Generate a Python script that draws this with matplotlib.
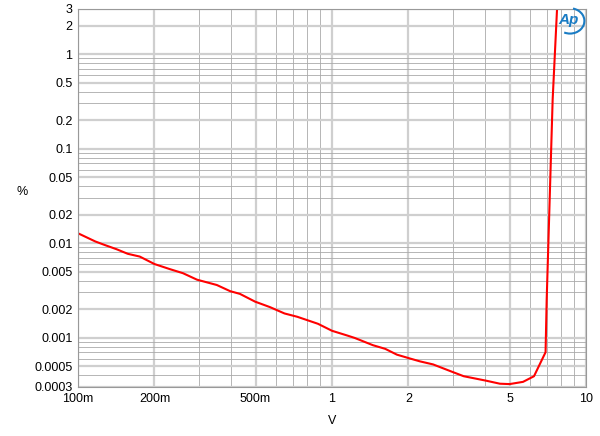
import matplotlib
matplotlib.use("Agg")
import matplotlib.pyplot as plt
from matplotlib.patches import Arc
from matplotlib.ticker import FixedLocator, NullFormatter

plt.rcParams['font.family'] = ['Liberation Sans', 'DejaVu Sans']

# level sweep (V) vs THD+N (%)
volts = [0.1, 0.117, 0.128, 0.142, 0.157, 0.175, 0.2, 0.23, 0.259, 0.294, 0.352,
         0.397, 0.434, 0.498, 0.57, 0.65, 0.73, 0.88, 1.0, 1.15, 1.23, 1.45,
         1.62, 1.8, 2.03, 2.22, 2.5, 3.0, 3.3, 4.04, 4.58, 5.0, 5.65, 6.24,
         6.93, 7.0, 7.39, 7.69, 7.8]
thd = [0.0127, 0.0104, 0.0095, 0.0086, 0.0077, 0.0072, 0.006, 0.0053, 0.0048,
       0.0041, 0.0036, 0.0031, 0.0029, 0.0024, 0.0021, 0.0018, 0.00166, 0.0014,
       0.00118, 0.00105, 0.00099, 0.00083, 0.00076, 0.00066, 0.0006, 0.00056,
       0.00052, 0.00043, 0.00039, 0.00035, 0.000325, 0.000322, 0.00034,
       0.00039, 0.0007, 0.0025, 0.33, 3.0, 5.0]

x_major = [0.1, 0.2, 0.5, 1, 2, 5, 10]
x_labels = ['100m', '200m', '500m', '1', '2', '5', '10']
y_major = [0.0003, 0.0005, 0.001, 0.002, 0.005, 0.01, 0.02, 0.05, 0.1, 0.2, 0.5, 1, 2, 3]
y_labels = ['0.0003', '0.0005', '0.001', '0.002', '0.005', '0.01', '0.02', '0.05',
            '0.1', '0.2', '0.5', '1', '2', '3']

fig = plt.figure(figsize=(6, 4.36), dpi=100)
ax = fig.add_axes([0.13, 0.1124, 0.8467, 0.867])
ax.set_xscale('log')
ax.set_yscale('log')
ax.set_xlim(0.1, 10)
ax.set_ylim(0.0003, 3)

x_minor = [m * d for d in (0.1, 1) for m in range(2, 10) if m * d not in x_major]
y_minor = [m * d for d in (0.0001, 0.001, 0.01, 0.1, 1) for m in range(2, 10)
           if 0.0003 < m * d < 3 and round(m * d, 6) not in [round(v, 6) for v in y_major]]

ax.xaxis.set_major_locator(FixedLocator(x_major))
ax.set_xticklabels(x_labels)
ax.xaxis.set_minor_locator(FixedLocator(x_minor))
ax.xaxis.set_minor_formatter(NullFormatter())
ax.yaxis.set_major_locator(FixedLocator(y_major))
ax.set_yticklabels(y_labels)
ax.yaxis.set_minor_locator(FixedLocator(y_minor))
ax.yaxis.set_minor_formatter(NullFormatter())

ax.grid(which='major', color='#cfcfcf', lw=1.6)
ax.grid(which='minor', color='#a9a9a9', lw=0.6)
ax.tick_params(which='both', length=0, labelsize=9, pad=4)
for s in ax.spines.values():
    s.set_color('#999999')
    s.set_linewidth(0.8)

ax.plot(volts, thd, color='#ff0000', lw=1.5)

ax.set_xlabel('V', fontsize=9)
ax.xaxis.set_label_coords(0.5, -0.075)
ax.set_ylabel('%', fontsize=9, rotation=0)
ax.yaxis.set_label_coords(-0.11, 0.5)

# Ap logo
fig.text(0.948, 0.954, 'Ap', color='#1a7cc4', fontsize=11, fontstyle='italic',
         fontweight='bold', ha='center', va='center')
fig.patches.append(Arc((0.95, 0.952), 0.048, 0.058, theta1=-110, theta2=80,
                       transform=fig.transFigure, color='#1a7cc4', lw=1.5))

fig.savefig('out.png', dpi=100)
